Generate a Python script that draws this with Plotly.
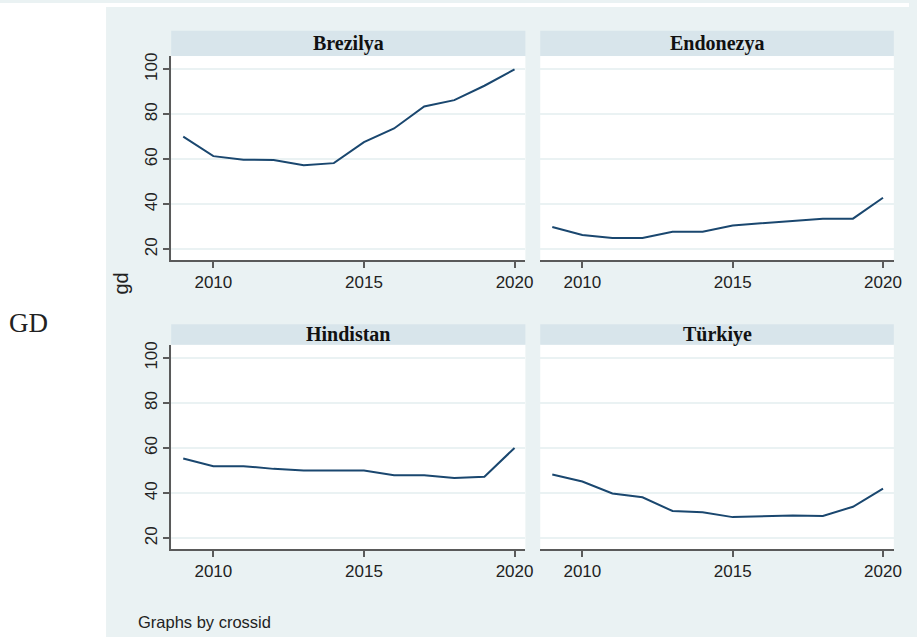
import plotly.graph_objects as go

years = [2009, 2010, 2011, 2012, 2013, 2014, 2015, 2016, 2017, 2018, 2019, 2020]
brezilya = [70.1, 61.4, 59.8, 59.7, 57.4, 58.3, 67.6, 73.7, 83.5, 86.3, 92.7, 100.0]
endonezya = [29.9, 26.4, 25.0, 25.0, 27.8, 27.8, 30.6, 31.7, 32.7, 33.6, 33.6, 42.9]
hindistan = [55.4, 52.0, 52.0, 50.8, 50.1, 50.1, 50.1, 48.0, 48.0, 46.8, 47.3, 60.1]
turkiye = [48.3, 45.2, 39.9, 38.2, 32.1, 31.6, 29.4, 29.7, 30.1, 29.9, 34.0, 42.0]
panel_titles = ["Brezilya", "Endonezya", "Hindistan", "Türkiye"]
y_ticks = [20, 40, 60, 80, 100]
x_ticks = [2010, 2015, 2020]

W, H = 917, 637
BG = "#EAF2F3"
STRIP = "#D8E5EB"
LINE = "#1A476F"
AX = "#5A5A5A"

def px(x):
    return x / W

def py(y):
    return 1 - y / H

cols = [(172.7, 530.0), (545.0, 901.7)]
rows = [(53.3, 258.3, 28.0), (343.3, 548.7, 322.7)]  # plot top, plot bottom, header top

series = [brezilya, endonezya, hindistan, turkiye]

fig = go.Figure()
shapes = []
annotations = []

for i, vals in enumerate(series):
    r, c = divmod(i, 2)
    n = "" if i == 0 else str(i + 1)
    x0, x1 = cols[c]
    top, bot, htop = rows[r]
    fig.add_trace(go.Scatter(
        x=years, y=vals, mode="lines",
        line=dict(color=LINE, width=2),
        xaxis="x" + n, yaxis="y" + n, showlegend=False, hoverinfo="x+y"))
    fig.layout["xaxis" + n] = dict(
        domain=[px(x0), px(x1)], anchor="y" + n, range=[2008.6, 2020.36],
        tickvals=x_ticks, ticks="outside", ticklen=6, tickcolor=AX, tickwidth=1.5,
        showline=True, linecolor=AX, linewidth=1.5, showgrid=False, zeroline=False,
        tickfont=dict(family="Liberation Sans, Arial", size=17, color="#222"))
    left = c == 0
    fig.layout["yaxis" + n] = dict(
        domain=[py(bot), py(top)], anchor="x" + n, range=[15.2, 105.9],
        tickvals=y_ticks, ticks="outside" if left else "", ticklen=6, tickcolor=AX, tickwidth=1.5,
        showticklabels=left, tickangle=-90,
        showline=left, linecolor=AX, linewidth=1.5,
        showgrid=True, gridcolor=BG, gridwidth=1.6, zeroline=False,
        tickfont=dict(family="Liberation Sans, Arial", size=17, color="#222"))
    shapes.append(dict(type="rect", xref="paper", yref="paper",
                       x0=px(x0), x1=px(x1), y0=py(top), y1=py(htop),
                       fillcolor=STRIP, line=dict(width=0), layer="below"))
    annotations.append(dict(text="<b>%s</b>" % panel_titles[i], xref="paper", yref="paper",
                            x=px((x0 + x1) / 2), y=py((top + htop) / 2),
                            xanchor="center", yanchor="middle", showarrow=False,
                            font=dict(family="Liberation Serif, Times New Roman", size=20, color="#111")))

# white margins outside the graph region
shapes.append(dict(type="rect", xref="paper", yref="paper", x0=0, x1=px(107), y0=0, y1=1,
                   fillcolor="white", line=dict(width=0), layer="below"))
shapes.append(dict(type="rect", xref="paper", yref="paper", x0=0, x1=1, y0=py(4), y1=1,
                   fillcolor="white", line=dict(width=0), layer="below"))

annotations.append(dict(text="gd", xref="paper", yref="paper", x=px(122), y=py(282),
                        xanchor="center", yanchor="middle", textangle=-90, showarrow=False,
                        font=dict(family="Liberation Sans, Arial", size=20, color="#222")))
annotations.append(dict(text="Graphs by crossid", xref="paper", yref="paper", x=px(137), y=py(622),
                        xanchor="left", yanchor="middle", showarrow=False,
                        font=dict(family="Liberation Sans, Arial", size=16.5, color="#222")))
annotations.append(dict(text="GD", xref="paper", yref="paper", x=px(7), y=py(322),
                        xanchor="left", yanchor="middle", showarrow=False,
                        font=dict(family="Liberation Serif, Times New Roman", size=27, color="#222")))

fig.update_layout(width=W, height=H, margin=dict(l=0, r=0, t=0, b=0),
                  paper_bgcolor=BG, plot_bgcolor="white",
                  shapes=shapes, annotations=annotations)

fig.write_html("out.html",
               config={"displayModeBar": False},
               post_script="document.body.style.margin='0';document.body.style.padding='0';"
                           "document.body.style.overflow='hidden';")
